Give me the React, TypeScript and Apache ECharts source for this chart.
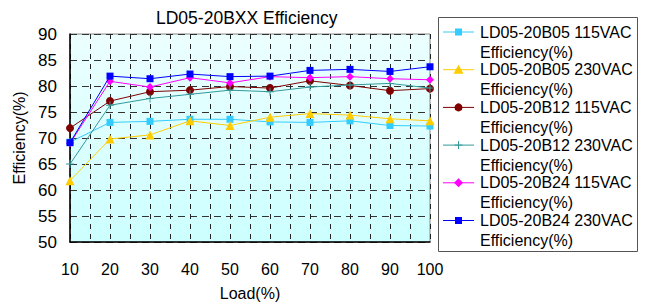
import React, { useEffect, useRef } from "react";
import * as echarts from "echarts";

const loads = [10, 20, 30, 40, 50, 60, 70, 80, 90, 100];
const seriesNames = [
  "LD05-20B05 115VAC",
  "LD05-20B05 230VAC",
  "LD05-20B12 115VAC",
  "LD05-20B12 230VAC",
  "LD05-20B24 115VAC",
  "LD05-20B24 230VAC",
];
const b05_115 = [69.2, 73.0, 73.2, 73.6, 73.6, 73.1, 73.0, 73.3, 72.4, 72.3];
const b05_230 = [61.8, 69.8, 70.6, 73.3, 72.4, 74.0, 74.7, 74.4, 73.7, 73.3];
const b12_115 = [71.9, 77.1, 78.9, 79.2, 79.9, 79.6, 81.0, 80.1, 79.1, 79.5];
const b12_230 = [65.0, 76.3, 77.6, 78.4, 79.2, 78.9, 79.8, 80.2, 80.5, 79.6];
const b24_115 = [69.0, 80.9, 79.8, 81.6, 80.6, 81.8, 81.6, 81.8, 81.4, 81.2];
const b24_230 = [69.1, 81.9, 81.4, 82.3, 81.8, 81.9, 83.0, 83.2, 82.8, 83.7];
const allValues = [b05_115, b05_230, b12_115, b12_230, b24_115, b24_230];

const colors = ["#33ccff", "#ffcc00", "#800000", "#339999", "#ff00ff", "#0000ff"];
const plusPath = "path://M3.5,0h1v8h-1z M0,3.5h8v1h-8z";
const symbols = ["rect", "triangle", "circle", plusPath, "diamond", "rect"];
const symbolSizes = [7, 9, 8, 8, 8, 7];

const FONT = "Liberation Sans, Arial, sans-serif";

function legendMarker(i: number, cx: number, cy: number, color: string): any {
  switch (i) {
    case 0:
    case 5:
      return { type: "rect", shape: { x: cx - 3.5, y: cy - 3.5, width: 7, height: 7 }, style: { fill: color } };
    case 1:
      return { type: "polygon", shape: { points: [[cx, cy - 5], [cx + 5, cy + 4], [cx - 5, cy + 4]] }, style: { fill: color } };
    case 2:
      return { type: "circle", shape: { cx, cy, r: 4 }, style: { fill: color } };
    case 3:
      return {
        type: "group",
        children: [
          { type: "line", shape: { x1: cx - 4, y1: cy, x2: cx + 4, y2: cy }, style: { stroke: color, lineWidth: 1 } },
          { type: "line", shape: { x1: cx, y1: cy - 4, x2: cx, y2: cy + 4 }, style: { stroke: color, lineWidth: 1 } },
        ],
      };
    default:
      return { type: "polygon", shape: { points: [[cx, cy - 4.5], [cx + 4.5, cy], [cx, cy + 4.5], [cx - 4.5, cy]] }, style: { fill: color } };
  }
}

export default function App() {
  const ref = useRef<HTMLDivElement>(null);
  useEffect(() => {
    document.body.style.margin = "0";
    const chart = echarts.init(ref.current!, undefined, { renderer: "svg" });

    const legendEls: any[] = [
      {
        type: "rect",
        shape: { x: 438.5, y: 17.5, width: 199, height: 234 },
        style: { fill: "#ffffff", stroke: "#555555", lineWidth: 1 },
      },
    ];
    seriesNames.forEach((name, i) => {
      const cy = 32 + i * 37.7;
      legendEls.push({
        type: "line",
        shape: { x1: 443, y1: cy, x2: 474, y2: cy },
        style: { stroke: colors[i], lineWidth: 1 },
      });
      legendEls.push(legendMarker(i, 458.5, cy, colors[i]));
      legendEls.push({
        type: "text",
        x: 480,
        y: cy,
        style: { text: name, fill: "#000", font: `16px ${FONT}`, textVerticalAlign: "middle" },
      });
      legendEls.push({
        type: "text",
        x: 480,
        y: cy + 20,
        style: { text: "Efficiency(%)", fill: "#000", font: `16px ${FONT}`, textVerticalAlign: "middle" },
      });
    });

    chart.setOption({
      animation: false,
      backgroundColor: "#ffffff",
      title: {
        text: "LD05-20BXX Efficiency",
        left: 151,
        top: 4,
        textStyle: { fontFamily: FONT, fontSize: 17.5, fontWeight: "normal", color: "#000" },
      },
      grid: {
        left: 70,
        right: 217,
        top: 34,
        bottom: 66,
        show: true,
        borderColor: "#888888",
        borderWidth: 1,
        backgroundColor: new echarts.graphic.LinearGradient(0, 0, 0, 1, [
          { offset: 0, color: "#ecffff" },
          { offset: 1, color: "#ccffff" },
        ]),
      },
      xAxis: {
        type: "value",
        min: 10,
        max: 100,
        interval: 5,
        name: "Load(%)",
        nameLocation: "middle",
        nameGap: 43,
        nameTextStyle: { fontFamily: FONT, fontSize: 16, color: "#000" },
        axisLine: { show: true, onZero: false, lineStyle: { color: "#000", width: 1.5 } },
        axisTick: { show: false },
        axisLabel: {
          margin: 19,
          fontFamily: FONT,
          fontSize: 16,
          color: "#000",
          showMinLabel: true,
          showMaxLabel: true,
          formatter: (v: number) => (v % 10 === 0 ? String(v) : ""),
        },
        splitLine: { show: true, lineStyle: { color: "#222", type: [5, 5], width: 1 } },
      },
      yAxis: {
        type: "value",
        min: 50,
        max: 90,
        interval: 5,
        name: "Efficiency(%)",
        nameLocation: "middle",
        nameGap: 42,
        nameTextStyle: { fontFamily: FONT, fontSize: 16, color: "#000" },
        axisLine: { show: true, lineStyle: { color: "#000", width: 1.5 } },
        axisTick: { show: false },
        axisLabel: { margin: 13, fontFamily: FONT, fontSize: 17, color: "#000" },
        splitLine: { show: true, lineStyle: { color: "#333", type: [7, 5], width: 1 } },
      },
      series: seriesNames.map((name, i) => ({
        name,
        type: "line",
        data: loads.map((x, j) => [x, allValues[i][j]]),
        symbol: symbols[i],
        symbolSize: symbolSizes[i],
        showAllSymbol: true,
        lineStyle: { color: colors[i], width: 1 },
        itemStyle: { color: colors[i], borderWidth: 0 },
        emphasis: { disabled: true },
        z: 2 + i,
      })),
      graphic: legendEls,
    });
    return () => chart.dispose();
  }, []);
  return <div ref={ref} style={{ width: 647, height: 308 }} />;
}
